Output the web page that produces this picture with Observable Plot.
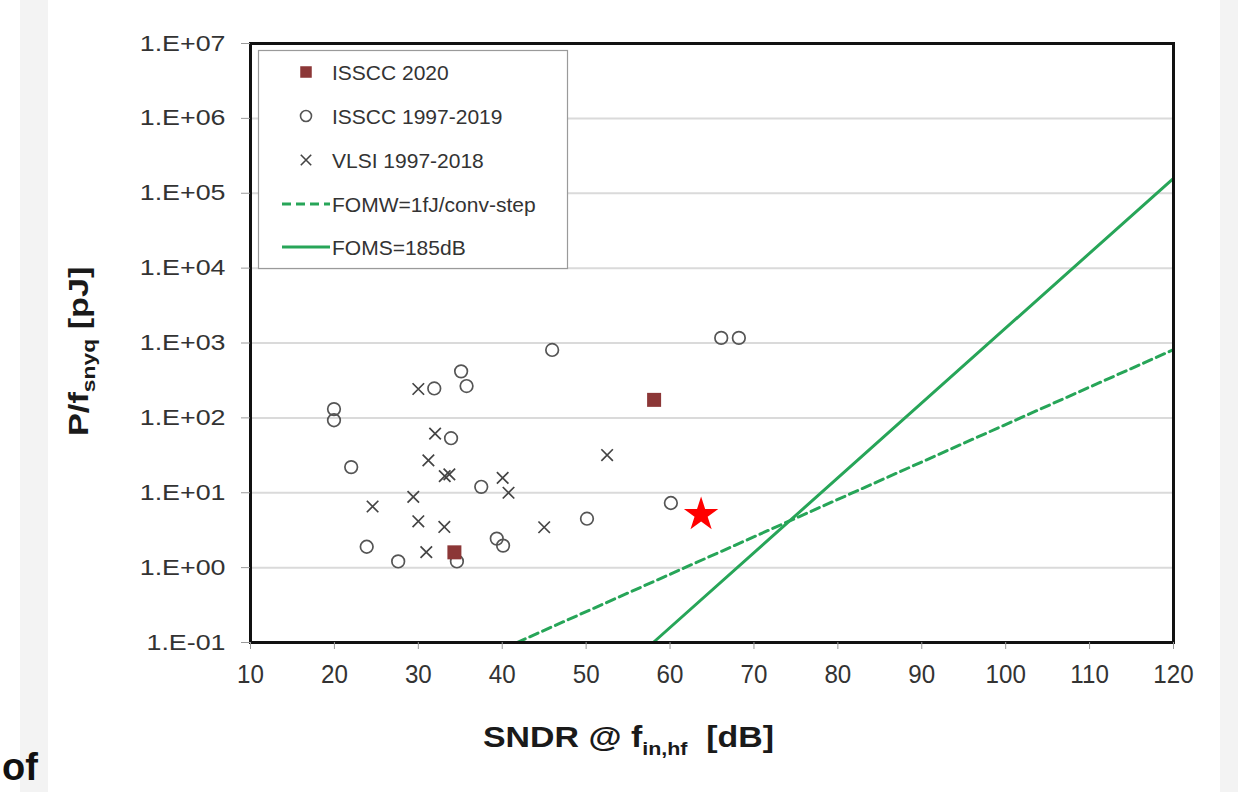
<!DOCTYPE html>
<html><head><meta charset="utf-8">
<script src="https://cdn.jsdelivr.net/npm/d3@7"></script>
<script src="https://cdn.jsdelivr.net/npm/@observablehq/plot@0.6"></script>
<style>
body{margin:0;background:#fff;width:1238px;height:792px;overflow:hidden;position:relative;font-family:"Liberation Sans",Arial,sans-serif}
.strip{position:absolute;top:0;height:792px;background:#f3f3f3}
#chart{position:absolute;left:0;top:0}
</style></head><body>
<div class="strip" style="left:20px;width:28px"></div>
<div class="strip" style="left:1220px;width:18px"></div>
<div id="chart"></div>
<script>
// ISSCC 2020 (filled squares)
const isscc2020X = [58.1, 34.3];
const isscc2020Y = [174, 1.6];
// ISSCC 1997-2019 (open circles)
const isscc9719X = [19.95, 19.95, 22.0, 23.85, 27.6, 31.9, 35.1, 35.75, 33.9, 37.5, 39.35, 40.1, 34.6, 45.95, 50.1, 60.1, 66.1, 68.2];
const isscc9719Y = [131, 93, 22, 1.9, 1.21, 247, 418, 266, 53.5, 12, 2.44, 1.97, 1.21, 808, 4.5, 7.3, 1170, 1170];
// VLSI 1997-2018 (crosses)
const vlsiX = [30.0, 32.0, 31.2, 33.15, 33.7, 40.05, 40.75, 29.4, 24.55, 30.0, 33.1, 30.95, 45.0, 52.5];
const vlsiY = [243, 61.6, 27.1, 16.7, 17.6, 15.8, 10, 8.8, 6.55, 4.16, 3.49, 1.61, 3.46, 31.9];
// highlighted point (red star)
const starX = [63.7];
const starY = [5.1];
// reference lines (end points)
const fomwX = [41.76, 120];
const fomwY = [0.1, 814];
const fomsX = [58.0, 120];
const fomsY = [0.1, 158000];
// axis ticks
const xTicks = [10, 20, 30, 40, 50, 60, 70, 80, 90, 100, 110, 120];
const yTicks = [1e-1, 1e0, 1e1, 1e2, 1e3, 1e4, 1e5, 1e6, 1e7];
const yTickLabels = ["1.E-01", "1.E+00", "1.E+01", "1.E+02", "1.E+03", "1.E+04", "1.E+05", "1.E+06", "1.E+07"];
// legend
const legendLabels = ["ISSCC 2020", "ISSCC 1997-2019", "VLSI 1997-2018", "FOMW=1fJ/conv-step", "FOMS=185dB"];

const green = "#27a558";
const toRows = (xs, ys) => xs.map((x, i) => ({x, y: ys[i]}));
const yLabelMap = new Map(yTicks.map((t, i) => [t, yTickLabels[i]]));

const chart = Plot.plot({
  width: 1238, height: 792,
  marginLeft: 250, marginRight: 65, marginTop: 43, marginBottom: 150,
  style: {fontFamily: '"Liberation Sans", Arial, sans-serif', background: "transparent", overflow: "visible"},
  x: {domain: [10, 120]},
  y: {type: "log", domain: [0.1, 1e7]},
  marks: [
    Plot.gridY(yTicks, {stroke: "#dadada", strokeOpacity: 1, strokeWidth: 2}),
    Plot.line(toRows(fomwX, fomwY), {x: "x", y: "y", stroke: green, strokeWidth: 3, strokeDasharray: "9,5"}),
    Plot.line(toRows(fomsX, fomsY), {x: "x", y: "y", stroke: green, strokeWidth: 3}),
    Plot.dot(toRows(isscc9719X, isscc9719Y), {x: "x", y: "y", r: 6.3, stroke: "#555", strokeWidth: 1.7, fill: "none"}),
    Plot.dot(toRows(vlsiX, vlsiY), {x: "x", y: "y", symbol: "times", r: 5.3, stroke: "#444", strokeWidth: 1.7}),
    Plot.dot(toRows(isscc2020X, isscc2020Y), {x: "x", y: "y", symbol: "square", r: 7.9, fill: "#8c3737", stroke: "none"}),
    Plot.dot(toRows(starX, starY), {x: "x", y: "y", symbol: "star", r: 10.8, fill: "#ff0000", stroke: "none"}),
    Plot.frame({stroke: "#111", strokeWidth: 3}),
    Plot.axisY(yTicks, {tickFormat: d => yLabelMap.get(d), fontSize: 22, tickSize: 9, tickPadding: 16, label: null}),
    Plot.axisX(xTicks, {tickFormat: d => String(d), fontSize: 26, tickSize: 7, tickPadding: 15, label: null})
  ]
});
document.getElementById("chart").appendChild(chart);

const svg = d3.select(chart);
function stretch(sel, sx) {
  sel.each(function() {
    const t = this.getAttribute("transform");
    if (t) this.setAttribute("transform", t + ` scale(${sx},1)`);
    else {
      const x = +this.getAttribute("x") || 0, y = +this.getAttribute("y") || 0;
      this.setAttribute("transform", `translate(${x},${y}) scale(${sx},1)`);
      this.removeAttribute("x"); this.removeAttribute("y");
    }
  });
}
const yLab = svg.selectAll('g[aria-label="y-axis tick label"] text');
stretch(yLab, 1.22);
const xLab = svg.selectAll('g[aria-label="x-axis tick label"] text');
stretch(xLab, 0.93);
svg.selectAll('g[aria-label="y-axis tick"], g[aria-label="x-axis tick"]').attr("stroke", "#999");
svg.selectAll('g[aria-label="y-axis tick label"], g[aria-label="x-axis tick label"]').attr("fill", "#333");

// axis titles
const xt = svg.append("text")
  .attr("transform", "translate(483,747) scale(1.13,1)").attr("text-anchor", "start")
  .attr("font-weight", "bold").attr("font-size", 30).attr("fill", "#1a1a1a");
xt.append("tspan").text("SNDR @ f");
xt.append("tspan").attr("dy", 8).attr("font-size", 19).text("in,hf");
xt.append("tspan").attr("dy", -8).text("\u00a0\u00a0[dB]");

const yt = svg.append("text")
  .attr("transform", "translate(88,436) rotate(-90) scale(1.27,1)").attr("text-anchor", "start")
  .attr("font-weight", "bold").attr("font-size", 27).attr("fill", "#1a1a1a");
yt.append("tspan").text("P/f");
yt.append("tspan").attr("dy", 7).attr("font-size", 18).text("snyq");
yt.append("tspan").attr("dy", -7).text("\u00a0[pJ]");

// legend
const lg = svg.append("g").attr("text-anchor", "start");
lg.append("rect").attr("x", 258.5).attr("y", 50.5).attr("width", 309).attr("height", 218)
  .attr("fill", "#fff").attr("stroke", "#9a9a9a").attr("stroke-width", 1.2);
const rowsY = [72, 116, 160, 204, 247];
const sym = (type, r) => d3.symbol(type, r * r * Math.PI)();
lg.append("path").attr("transform", `translate(306,${rowsY[0]})`).attr("d", sym(d3.symbolSquare, 6.5)).attr("fill", "#8c3737");
lg.append("circle").attr("cx", 306).attr("cy", rowsY[1]).attr("r", 5.5).attr("fill", "none").attr("stroke", "#555").attr("stroke-width", 1.6);
lg.append("path").attr("transform", `translate(306,${rowsY[2]})`).attr("d", sym(d3.symbolTimes, 4.8)).attr("fill", "none").attr("stroke", "#444").attr("stroke-width", 1.6);
lg.append("line").attr("x1", 282).attr("x2", 330).attr("y1", rowsY[3]).attr("y2", rowsY[3]).attr("stroke", green).attr("stroke-width", 3).attr("stroke-dasharray", "9,5");
lg.append("line").attr("x1", 282).attr("x2", 330).attr("y1", rowsY[4]).attr("y2", rowsY[4]).attr("stroke", green).attr("stroke-width", 3);
legendLabels.forEach((t, i) => {
  lg.append("text").attr("x", 332).attr("y", rowsY[i]).attr("dy", "0.36em")
    .attr("font-size", 21).attr("fill", "#333").text(t);
});

// slide text fragment at bottom-left
svg.append("text").attr("x", 2).attr("y", 780).attr("text-anchor", "start")
  .attr("font-size", 38).attr("font-weight", "bold").attr("fill", "#111").text("of");
</script>
</body></html>
